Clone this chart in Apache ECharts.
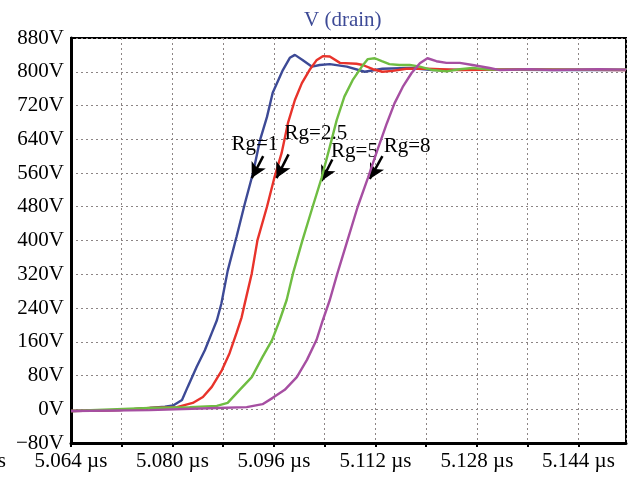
<!DOCTYPE html>
<html>
<head>
<meta charset="utf-8">
<script src="https://cdn.jsdelivr.net/npm/echarts@6/dist/echarts.min.js"></script>
<style>
  html, body { margin: 0; padding: 0; background: #fff; }
  #chart { width: 636px; height: 480px; }
</style>
</head>
<body>
<div id="chart"></div>
<script>
// drain voltage traces, [time in µs, volts]
var rg1 = [[5.0640,-4],[5.0717,-2],[5.0764,3],[5.0788,6],[5.0801,9],[5.0815,22],[5.0824,53],[5.0838,100],[5.0851,140],[5.0862,181],[5.0870,211],[5.0877,250],[5.0887,328],[5.0901,409],[5.0914,487],[5.0927,560],[5.0938,638],[5.0949,693],[5.0958,750],[5.0974,804],[5.0985,833],[5.0993,840],[5.1005,828],[5.1020,812],[5.1032,816],[5.1048,818],[5.1075,812],[5.1103,800],[5.1131,807],[5.1174,809],[5.1210,804],[5.1284,805],[5.1410,804],[5.1515,804]];
var rg25 = [[5.0640,-4],[5.0717,-2],[5.0764,3],[5.0807,5],[5.0832,15],[5.0848,29],[5.0862,53],[5.0878,93],[5.0890,133],[5.0901,181],[5.0909,218],[5.0914,251],[5.0925,322],[5.0934,401],[5.0949,480],[5.0961,551],[5.0972,607],[5.0982,678],[5.0993,733],[5.1004,773],[5.1016,804],[5.1027,827],[5.1037,837],[5.1048,836],[5.1064,821],[5.1090,819],[5.1100,816],[5.1116,806],[5.1131,800],[5.1147,802],[5.1169,807],[5.1201,807],[5.1253,804],[5.1347,806],[5.1515,804]];
var rg5 = [[5.0640,-4],[5.0764,3],[5.0827,5],[5.0870,8],[5.0887,15],[5.0906,46],[5.0925,76],[5.0942,124],[5.0957,164],[5.0969,211],[5.0980,259],[5.0990,322],[5.1005,401],[5.1021,480],[5.1035,548],[5.1048,622],[5.1059,686],[5.1071,741],[5.1084,780],[5.1098,811],[5.1108,830],[5.1119,832],[5.1130,825],[5.1142,818],[5.1158,816],[5.1174,816],[5.1190,812],[5.1210,804],[5.1232,801],[5.1253,806],[5.1273,809],[5.1300,805],[5.1410,805],[5.1515,805]];
var rg8 = [[5.0640,-4],[5.0764,-2],[5.0870,3],[5.0917,5],[5.0942,12],[5.0958,27],[5.0977,46],[5.0996,76],[5.1012,117],[5.1027,164],[5.1037,211],[5.1048,259],[5.1060,322],[5.1076,401],[5.1092,480],[5.1108,548],[5.1123,614],[5.1138,678],[5.1150,725],[5.1163,764],[5.1177,797],[5.1190,820],[5.1202,832],[5.1216,825],[5.1232,821],[5.1253,821],[5.1273,816],[5.1300,809],[5.1316,804],[5.1363,806],[5.1399,804],[5.1473,806],[5.1515,805]];

var names = ["Rg=1", "Rg=2.5", "Rg=5", "Rg=8"];
var colors = ["#3d4a96", "#e8332b", "#6fbd42", "#a64fa2"];
// annotation text centres and arrow start/tip, in data coords
var labelAt = [[5.0930, 628], [5.1026, 654], [5.1087, 612], [5.1170, 624]];
var arrowFrom = [[5.0943, 600], [5.0983, 604], [5.1052, 592], [5.1131, 600]];
var arrowTo = [[5.0925, 548], [5.0964, 548], [5.1035, 541], [5.1111, 546]];

var xMin = 5.064, xMax = 5.1515, xStep = 0.008;
var yMin = -80, yMax = 880, yStep = 80;
var offLabel = 5.048; // half-clipped tick label left of the plot

var FONT = "Liberation Serif";
var FS = 21;
var chart = echarts.init(document.getElementById("chart"), null, { renderer: "canvas" });

function mkSeries(i, data) {
  return {
    name: names[i],
    type: "line",
    data: data,
    showSymbol: false,
    animation: false,
    lineStyle: { color: colors[i], width: 2.4 },
    itemStyle: { color: colors[i] },
    z: 3 + i,
    markLine: {
      silent: true,
      animation: false,
      symbol: ["none", "arrow"],
      symbolSize: [12, 15],
      label: { show: false },
      lineStyle: { color: "#000", width: 2.5, type: "solid" },
      data: [[{ coord: arrowFrom[i] }, { coord: arrowTo[i] }]]
    },
    markPoint: {
      silent: true,
      animation: false,
      symbol: "circle",
      symbolSize: 1,
      itemStyle: { color: "rgba(0,0,0,0)" },
      label: {
        show: true,
        position: "inside",
        formatter: names[i],
        color: "#000",
        fontFamily: FONT,
        fontSize: FS
      },
      data: [{ coord: labelAt[i] }]
    }
  };
}

function xLabel(v) {
  var k = (v - xMin) / (2 * xStep);
  if (Math.abs(k - Math.round(k)) > 0.01) return "";
  return v.toFixed(3) + " \u00b5s";
}

chart.setOption({
  backgroundColor: "#fff",
  animation: false,
  title: {
    text: "V (drain)",
    left: 299,
    top: 5,
    textStyle: { color: "#3d4a96", fontFamily: FONT, fontSize: FS, fontWeight: "normal" }
  },
  grid: {
    left: 71, right: 10, top: 38, bottom: 37,
    show: true, borderColor: "#000", borderWidth: 2,
    outerBoundsMode: "none"
  },
  xAxis: {
    type: "value",
    min: xMin, max: xMax, interval: xStep,
    axisLine: { show: true, onZero: false, lineStyle: { color: "#000", width: 3 } },
    axisTick: { show: true, length: 4, lineStyle: { color: "#000", width: 2 } },
    axisLabel: {
      color: "#000", fontFamily: FONT, fontSize: FS, margin: 8,
      showMaxLabel: false, formatter: xLabel
    },
    splitLine: { show: true, lineStyle: { color: "#8c8585", width: 1, type: [2, 3] } }
  },
  yAxis: {
    type: "value",
    min: yMin, max: yMax, interval: yStep,
    axisLine: { show: true, onZero: false, lineStyle: { color: "#000", width: 3 } },
    axisTick: { show: false },
    axisLabel: {
      color: "#000", fontFamily: FONT, fontSize: FS, margin: 7,
      formatter: function (v) { return v < 0 ? "\u2212" + Math.abs(v) + "V" : v + "V"; }
    },
    splitLine: { show: true, lineStyle: { color: "#8c8585", width: 1, type: [2, 3] } }
  },
  series: [mkSeries(0, rg1), mkSeries(1, rg25), mkSeries(2, rg5), mkSeries(3, rg8)]
});

// the clipped "5.048 µs" label sitting past the left edge
var px = chart.convertToPixel({ xAxisIndex: 0 }, offLabel);
chart.setOption({
  graphic: [{
    type: "text",
    x: px, y: 451,
    style: {
      text: offLabel.toFixed(3) + " \u00b5s",
      fill: "#000", font: FS + "px '" + FONT + "'",
      textAlign: "center", textVerticalAlign: "top"
    }
  }]
});
</script>
</body>
</html>
